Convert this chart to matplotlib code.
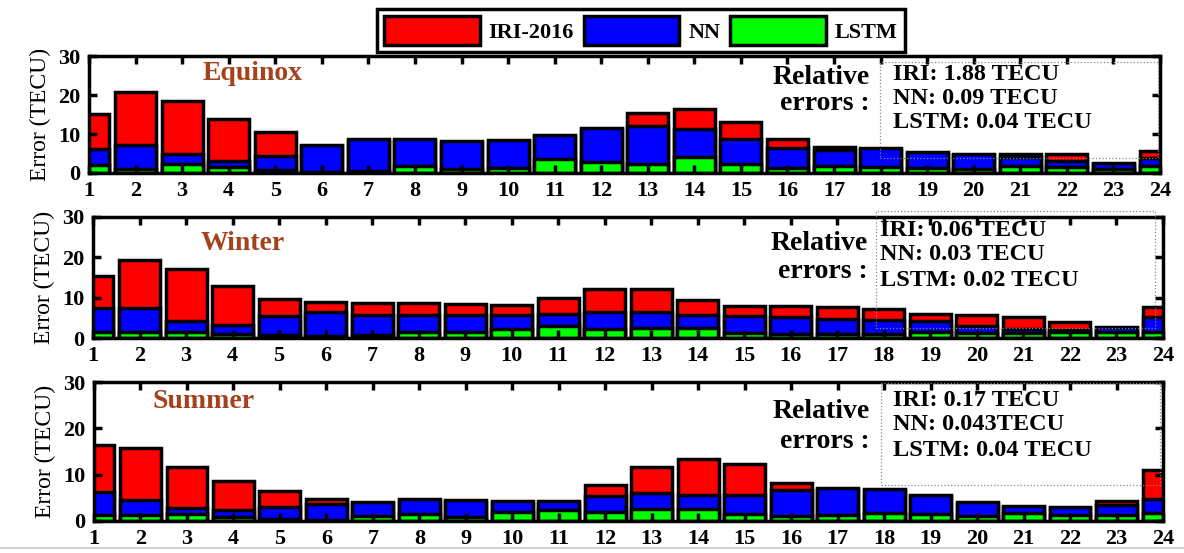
import matplotlib
matplotlib.use("Agg")
import matplotlib.pyplot as plt
from matplotlib.patches import Patch, Rectangle
from matplotlib.lines import Line2D

##############################data################################
hours = list(range(1, 25))
seasons = ["Equinox", "Winter", "Summer"]

equinox_iri = [15.2, 20.7, 18.4, 13.8, 10.5, 6.8, 8.2, 8.2, 7.8, 8.1, 9.5, 11.0,
               15.4, 16.5, 13.0, 8.8, 6.7, 6.0, 5.0, 4.5, 5.0, 5.0, 2.3, 5.7]
equinox_nn = [6.1, 7.2, 4.8, 3.0, 4.4, 7.1, 8.6, 8.6, 8.2, 8.5, 9.8, 11.5,
              12.1, 11.3, 8.6, 6.5, 5.8, 6.3, 5.4, 4.8, 4.0, 3.2, 2.5, 3.8]
equinox_lstm = [2.1, 1.1, 2.2, 1.5, 0.7, 0.3, 0.4, 1.7, 1.1, 1.3, 3.6, 2.8,
                2.3, 4.2, 2.2, 1.3, 1.7, 1.5, 1.3, 0.9, 1.7, 1.5, 1.1, 1.9]

winter_iri = [15.3, 19.4, 17.0, 12.9, 9.7, 8.9, 8.6, 8.8, 8.5, 8.2, 9.8, 12.1,
              12.1, 9.4, 8.0, 8.0, 7.6, 7.1, 6.0, 5.6, 5.2, 3.9, 2.6, 7.6]
winter_nn = [7.4, 7.4, 4.3, 3.1, 5.5, 6.4, 5.7, 5.6, 5.6, 5.7, 6.0, 6.5,
             6.5, 5.7, 5.5, 5.3, 4.8, 4.5, 4.1, 3.0, 2.2, 2.0, 2.8, 5.3]
winter_lstm = [1.6, 1.6, 1.6, 1.0, 0.8, 0.6, 0.8, 1.6, 1.4, 2.3, 3.0, 2.3,
               2.5, 2.5, 1.2, 1.1, 1.1, 1.1, 1.4, 1.2, 1.2, 1.4, 1.4, 1.6]

summer_iri = [16.4, 15.7, 11.6, 8.7, 6.4, 4.8, 3.8, 4.4, 4.2, 3.9, 3.9, 7.8,
              11.6, 13.3, 12.3, 8.2, 6.7, 6.4, 5.3, 3.7, 3.0, 2.7, 4.3, 11.0]
summer_nn = [6.2, 4.6, 2.8, 2.3, 3.0, 3.6, 4.1, 4.8, 4.6, 4.3, 4.3, 5.5,
             6.0, 5.7, 5.7, 6.6, 7.1, 6.9, 5.7, 4.0, 3.3, 3.0, 3.5, 4.8]
summer_lstm = [1.2, 1.3, 1.5, 0.8, 0.5, 0.2, 1.0, 1.6, 0.9, 1.9, 2.4, 2.0,
               2.6, 2.6, 1.5, 1.0, 1.4, 1.7, 1.6, 1.0, 1.7, 1.4, 1.3, 1.7]

equinox_rel = ["IRI: 1.88 TECU", "NN: 0.09 TECU", "LSTM: 0.04 TECU"]
winter_rel = ["IRI: 0.06 TECU", "NN: 0.03 TECU", "LSTM: 0.02 TECU"]
summer_rel = ["IRI: 0.17 TECU", "NN: 0.043TECU", "LSTM: 0.04 TECU"]

##############################colors################################
red = "#FF0000"
blue = "#0000FF"
green = "#00FF00"
brown = "#A3421B"

plt.rcParams["font.family"] = ["Liberation Serif", "DejaVu Serif"]
plt.rcParams["font.weight"] = "bold"

W, H = 1184, 553
fig = plt.figure(figsize=(W / 100, H / 100), dpi=100)


def px_rect(left, right, top, bottom):
    return [left / W, 1 - bottom / H, (right - left) / W, (bottom - top) / H]


# pixel boxes of each panel, the text spots and the dotted box
panels = [
    dict(rect=(89, 1160, 56, 173), iri=equinox_iri, nn=equinox_nn, lstm=equinox_lstm,
         rel=equinox_rel, title_xy=(203, 74), rel_xy=(870, 78, 103),
         stat_xy=(893, 75, 24), box=(880, 1158, 62, 158)),
    dict(rect=(93, 1163, 217, 338), iri=winter_iri, nn=winter_nn, lstm=winter_lstm,
         rel=winter_rel, title_xy=(201, 244), rel_xy=(868, 243, 272),
         stat_xy=(880, 230, 25), box=(876, 1155, 211, 328)),
    dict(rect=(94, 1163, 382, 521), iri=summer_iri, nn=summer_nn, lstm=summer_lstm,
         rel=summer_rel, title_xy=(153, 402), rel_xy=(870, 411, 442),
         stat_xy=(893, 400, 25), box=(881, 1160, 383, 485)),
]

for season, p in zip(seasons, panels):
    ax = fig.add_axes(px_rect(*p["rect"]))
    ax.bar(hours, p["iri"], width=0.88, color=red, edgecolor="black", linewidth=2.5)
    ax.bar(hours, p["nn"], width=0.88, color=blue, edgecolor="black", linewidth=2.5)
    ax.bar(hours, p["lstm"], width=0.88, color=green, edgecolor="black", linewidth=2.5)
    ax.set_xlim(1.0, 24.0)
    ax.set_ylim(0, 30)
    ax.set_xticks(hours)
    ax.set_yticks([0, 10, 20, 30])
    ax.tick_params(direction="in", top=True, right=True, length=6, width=2.5,
                   labelsize=16, pad=6)
    for s in ax.spines.values():
        s.set_linewidth(2.5)
    ax.set_ylabel("Error (TECU)", fontsize=17, labelpad=5)

    tx, ty = p["title_xy"]
    fig.text(tx / W, 1 - ty / H, season, color=brown, fontsize=20,
             va="center", ha="left")

    rx, ry1, ry2 = p["rel_xy"]
    fig.text(rx / W, 1 - ry1 / H, "Relative", fontsize=20, ha="right", va="center")
    fig.text(rx / W, 1 - ry2 / H, "errors :", fontsize=20, ha="right", va="center")

    sx, sy, step = p["stat_xy"]
    for i, line in enumerate(p["rel"]):
        fig.text(sx / W, 1 - (sy + i * step) / H, line, fontsize=17.5,
                 ha="left", va="center", zorder=6)

    bl, br, bt, bb = p["box"]
    fig.add_artist(Rectangle((bl / W, 1 - bb / H), (br - bl) / W, (bb - bt) / H,
                             transform=fig.transFigure, fill=False,
                             edgecolor="#888888", linestyle=":", linewidth=0.9))

##############################legend################################
handles = [Patch(facecolor=red, edgecolor="black", linewidth=2.5),
           Patch(facecolor=blue, edgecolor="black", linewidth=2.5),
           Patch(facecolor=green, edgecolor="black", linewidth=2.5)]
leg = fig.legend(handles, ["IRI-2016", "NN", "LSTM"], loc="upper left",
                 bbox_to_anchor=(377 / W, 1 - 9 / H), ncol=3, fancybox=False,
                 framealpha=1, edgecolor="black", fontsize=16,
                 handlelength=4.3, handleheight=1.6, handletextpad=0.4,
                 columnspacing=0.45, borderpad=0.32, borderaxespad=0)
leg.get_frame().set_linewidth(2.5)

# faint grey line at the bottom of the screenshot
fig.add_artist(Line2D([0, 1], [1 - 548 / H, 1 - 548 / H], transform=fig.transFigure,
                      color="#C8C8C8", linewidth=1.2))

fig.savefig("out.png", dpi=100)
